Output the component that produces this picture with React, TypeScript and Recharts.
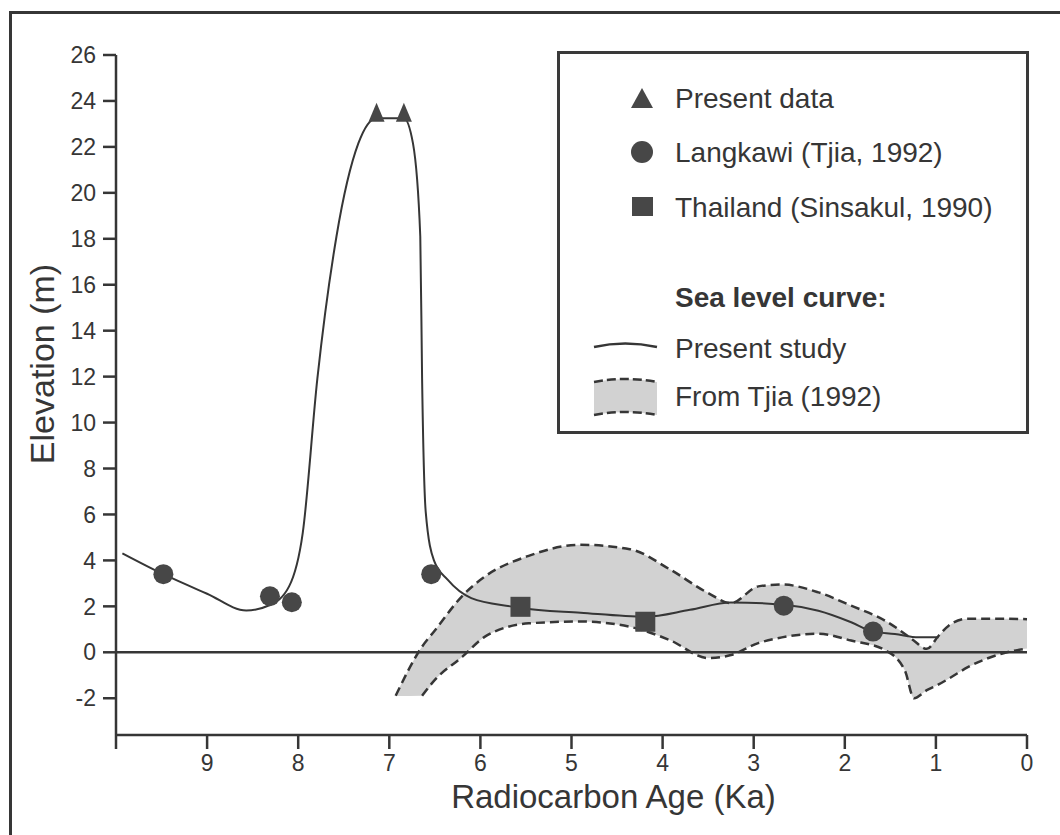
import React from "react";
import { ComposedChart, Line, Area, Scatter, XAxis, YAxis, ReferenceLine, Legend, Label } from "recharts";

// Sea level curve of the present study (age in Ka, elevation in m)
const presentAge = [9.93, 9.48, 9.0, 8.57, 8.31, 8.1, 7.95, 7.79, 7.58, 7.34, 7.14, 6.84, 6.74, 6.66, 6.64, 6.6, 6.51, 6.36, 6.1, 5.65, 5.56, 4.9, 4.19, 3.7, 3.25, 2.67, 2.29, 1.93, 1.69, 1.45, 1.19, 0.97];
const presentElev = [4.31, 3.4, 2.55, 1.82, 2.06, 2.87, 5.2, 11.9, 18.1, 22.15, 23.25, 23.25, 22.15, 18.1, 11.9, 6.1, 4.0, 3.16, 2.36, 1.99, 1.93, 1.72, 1.55, 1.85, 2.17, 2.07, 1.81, 1.31, 0.9, 0.8, 0.65, 0.65];

// Tjia (1992) envelope, upper and lower limits
const tjiaAge = [6.93, 6.64, 6.5, 6.2, 5.95, 5.47, 4.9, 4.36, 3.92, 3.5, 3.25, 2.95, 2.69, 2.29, 1.93, 1.56, 1.34, 1.24, 1.1, 0.97, 0.86, 0.65, 0.28, 0];
const tjiaHigh = [-1.89, 0.25, 0.95, 2.45, 3.3, 4.2, 4.68, 4.49, 3.61, 2.58, 2.14, 2.87, 2.95, 2.61, 2.03, 1.38, 0.8, 0.5, 0.15, 0.72, 1.16, 1.46, 1.46, 1.44];
const tjiaLow = [-1.9, -1.89, -1.2, -0.2, 0.68, 1.26, 1.34, 1.11, 0.53, -0.25, -0.12, 0.4, 0.65, 0.81, 0.51, 0.1, -0.8, -2.0, -1.65, -1.4, -1.15, -0.65, -0.06, 0.16];

// sample points
const presentDataAge = [7.14, 6.84];
const presentDataElev = [23.4, 23.4];
const langkawiAge = [9.48, 8.31, 8.07, 6.54, 2.67, 1.69];
const langkawiElev = [3.4, 2.44, 2.18, 3.4, 2.03, 0.9];
const thailandAge = [5.56, 4.19];
const thailandElev = [1.98, 1.33];

const xTicks = [10, 9, 8, 7, 6, 5, 4, 3, 2, 1, 0];
const yTicks = [-2, 0, 2, 4, 6, 8, 10, 12, 14, 16, 18, 20, 22, 24, 26];

const FONT = "'Liberation Sans', Arial, Helvetica, sans-serif";
const INK = "#363636";
const MARK = "#474747";
const BAND = "#d2d2d2";

const toPoints = (ages: number[], elevs: number[]) => ages.map((age, i) => ({ age, elev: elevs[i] }));

const presentCurve = toPoints(presentAge, presentElev);
const upperLimit = toPoints(tjiaAge, tjiaHigh);
// lower dashed edge starts at the second point, the first one only closes the shaded band
const lowerLimit = toPoints(tjiaAge, tjiaLow).slice(1);
const band = tjiaAge.map((age, i) => ({ age, range: [tjiaLow[i], tjiaHigh[i]] }));
const presentData = toPoints(presentDataAge, presentDataElev);
const langkawi = toPoints(langkawiAge, langkawiElev);
const thailand = toPoints(thailandAge, thailandElev);

const Triangle = ({ cx, cy }: any) => (
  <path d={`M${cx},${cy - 12} L${cx + 8},${cy + 7} L${cx - 8},${cy + 7} Z`} fill={MARK} />
);
const Dot = ({ cx, cy }: any) => <circle cx={cx} cy={cy} r={10} fill={MARK} />;
const Square = ({ cx, cy }: any) => <rect x={cx - 10} y={cy - 10} width={20} height={20} fill={MARK} />;

const YTitle = ({ viewBox }: any) => {
  const cx = viewBox.x + 26;
  const cy = viewBox.y + viewBox.height / 2 - 31;
  return (
    <text x={cx} y={cy} transform={`rotate(-90 ${cx} ${cy})`} textAnchor="middle" dominantBaseline="central"
      fontSize={34} fontFamily={FONT} fill={INK}>
      Elevation (m)
    </text>
  );
};

const XTitle = ({ viewBox }: any) => (
  <text x={viewBox.x + viewBox.width / 2 + 42} y={viewBox.y + 73} textAnchor="middle" fontSize={33} fontFamily={FONT} fill={INK}>
    Radiocarbon Age (Ka)
  </text>
);

const LegendBox = () => (
  <svg width={472} height={383} style={{ display: "block" }}>
    <rect x={1.5} y={1.5} width={469} height={380} fill="#fff" stroke="#3a3a3a" strokeWidth={3} />
    <path d="M85,37 L96,57 L74,57 Z" fill={MARK} />
    <circle cx={85} cy={101} r={11} fill={MARK} />
    <rect x={75} y={146} width={21} height={19} fill={MARK} />
    <g fontFamily={FONT} fontSize={28} fill={INK} dominantBaseline="central">
      <text x={118} y={47}>Present data</text>
      <text x={118} y={101}>Langkawi (Tjia, 1992)</text>
      <text x={118} y={156}>Thailand (Sinsakul, 1990)</text>
      <text x={118} y={246} fontWeight="bold">Sea level curve:</text>
      <text x={118} y={297}>Present study</text>
      <text x={118} y={345}>From Tjia (1992)</text>
    </g>
    <path d="M37,296 Q68,289 100,296" fill="none" stroke={INK} strokeWidth={2.5} />
    <path d="M37,331 Q68,325 100,331 L100,364 Q68,358 37,364 Z" fill={BAND} />
    <path d="M37,331 Q68,325 100,331" fill="none" stroke={INK} strokeWidth={2.5} strokeDasharray="9 4" />
    <path d="M37,364 Q68,358 100,364" fill="none" stroke={INK} strokeWidth={2.5} strokeDasharray="9 4" />
  </svg>
);

export default function App() {
  return (
    <div style={{ position: "absolute", left: 0, top: 0, width: 1060, height: 835, background: "#fff", overflow: "hidden" }}>
      <div style={{ position: "absolute", left: 9, top: 11, width: 1100, height: 900, borderLeft: `3px solid ${INK}`, borderTop: `3px solid ${INK}` }} />
      <ComposedChart width={1060} height={835} margin={{ top: 55, right: 33, bottom: 20, left: 16 }}>
        <XAxis
          dataKey="age"
          type="number"
          domain={[0, 10]}
          reversed
          ticks={xTicks}
          interval={0}
          tickFormatter={(v: number) => (v === 10 ? "" : String(v))}
          height={80}
          tickSize={14}
          tickMargin={6}
          axisLine={{ stroke: INK, strokeWidth: 2.5 }}
          tickLine={{ stroke: INK, strokeWidth: 2.5 }}
          tick={{ fill: INK, fontSize: 23, fontFamily: FONT }}
        >
          <Label content={XTitle} />
        </XAxis>
        <YAxis
          type="number"
          domain={[-3.6, 26]}
          ticks={yTicks}
          interval={0}
          width={100}
          tickSize={13}
          tickMargin={7}
          axisLine={{ stroke: INK, strokeWidth: 2.5 }}
          tickLine={{ stroke: INK, strokeWidth: 2.5 }}
          tick={{ fill: INK, fontSize: 23, fontFamily: FONT }}
        >
          <Label content={YTitle} />
        </YAxis>
        <Area data={band} dataKey="range" type="monotone" fill={BAND} fillOpacity={1} stroke="none" isAnimationActive={false} legendType="none" />
        <ReferenceLine y={0} stroke={INK} strokeWidth={2.5} />
        <Line data={upperLimit} dataKey="elev" type="monotone" stroke={INK} strokeWidth={2.5} strokeDasharray="9 5" dot={false} isAnimationActive={false} legendType="none" />
        <Line data={lowerLimit} dataKey="elev" type="monotone" stroke={INK} strokeWidth={2.5} strokeDasharray="9 5" dot={false} isAnimationActive={false} legendType="none" />
        <Line data={presentCurve} dataKey="elev" name="Present study" type="monotone" stroke={INK} strokeWidth={2} dot={false} isAnimationActive={false} />
        <Scatter data={presentData} dataKey="elev" name="Present data" shape={Triangle} isAnimationActive={false} />
        <Scatter data={langkawi} dataKey="elev" name="Langkawi (Tjia, 1992)" shape={Dot} isAnimationActive={false} />
        <Scatter data={thailand} dataKey="elev" name="Thailand (Sinsakul, 1990)" shape={Square} isAnimationActive={false} />
        <Legend
          layout="vertical"
          align="center"
          verticalAlign="middle"
          content={LegendBox}
          wrapperStyle={{ left: 557, top: 51, width: 472, height: 383 }}
        />
      </ComposedChart>
    </div>
  );
}
